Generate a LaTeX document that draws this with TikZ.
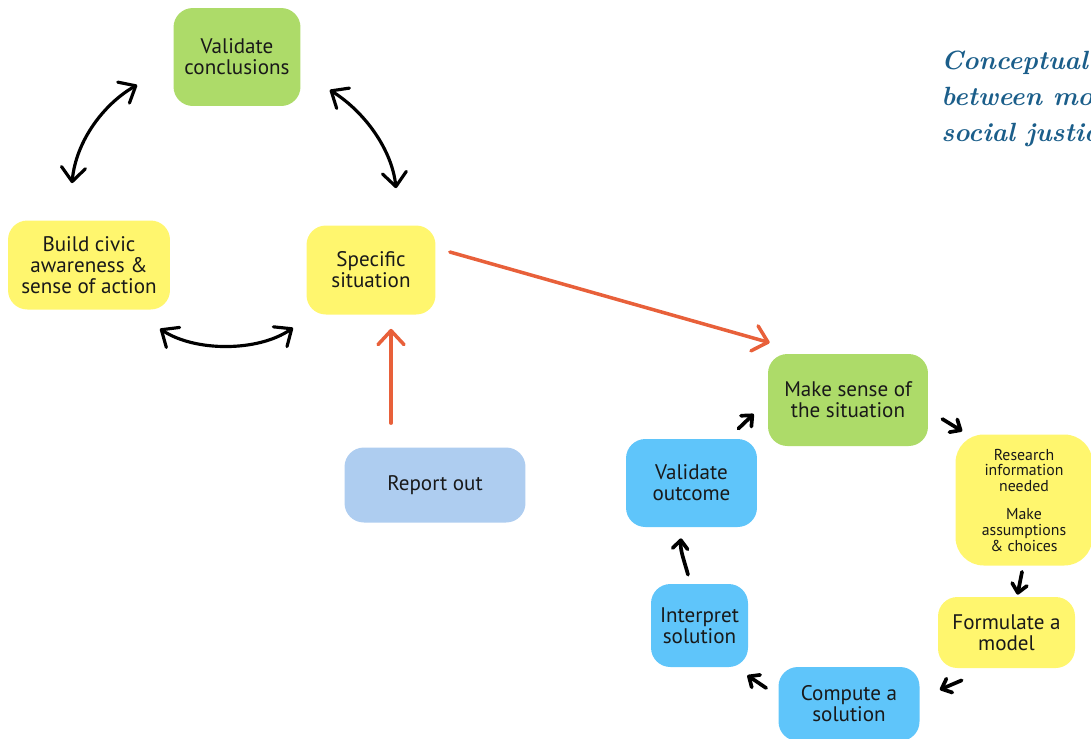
\documentclass[tikz,border=0pt]{standalone}
\usepackage{fontspec}
\newfontfamily\boxfont{PT Sans}
\usepackage{tikz}
\usetikzlibrary{arrows.meta,positioning,calc}
\definecolor{LeafGreen}{HTML}{ADDB69}
\definecolor{Lemon}{HTML}{FFF66E}
\definecolor{SkyBlue}{HTML}{5FC5FA}
\definecolor{PaleBlue}{HTML}{AECDF0}
\definecolor{Coral}{HTML}{E8603A}
\definecolor{InkBlue}{HTML}{1B5E8A}

\begin{document}
\begin{tikzpicture}[
  x=0.02cm, y=-0.02cm,
  every node/.style={font=\boxfont\fontsize{12}{12}\selectfont, text=black!90},
  stagebox/.style={rounded corners=11pt, align=center, inner sep=1pt},
  greenbox/.style={stagebox, fill=LeafGreen},
  yellowbox/.style={stagebox, fill=Lemon},
  bluebox/.style={stagebox, fill=SkyBlue},
  dblarr/.style={{Straight Barb[length=2.8mm,width=4.8mm,round]}-{Straight Barb[length=2.8mm,width=4.8mm,round]},
    line width=1.8pt, line cap=round},
  coralarr/.style={-{Straight Barb[length=2.8mm,width=5.2mm,round]}, line width=2pt, line cap=round, Coral},
  steparr/.style={-{Straight Barb[length=1.7mm,width=3mm,round]}, line width=2.1pt, line cap=round},
]
  \useasboundingbox (0,0) rectangle (1091,738);
  \clip (0,0) rectangle (1091,738);

  % Title
  \node[anchor=north west, inner sep=0, align=left, text=InkBlue,
        font=\rmfamily\bfseries\itshape\fontsize{15}{20.5}\selectfont]
    (title) at (941,51) {Conceptual\\between mo\\social justic};

  % Civic cycle
  \node[greenbox, minimum width=2.54cm, minimum height=1.96cm] (vconc) at (237,57) {Validate\\conclusions};
  \node[yellowbox, minimum width=3.24cm, minimum height=1.78cm] (civic) at (89,265) {Build civic\\awareness \&\\sense of action};
  \node[yellowbox, minimum width=2.58cm, minimum height=1.78cm] (spec) at (371,270) {Specific\\situation};
  \node[stagebox, fill=PaleBlue, minimum width=3.62cm, minimum height=1.5cm] (report) at (435,485) {Report out};

  \draw[dblarr] ([shift={(-17,-37)}]civic.north) .. controls (76,140) and (105,103) .. ([shift={(-36,28)}]vconc.west);
  \draw[dblarr] ([shift={(29,33)}]vconc.east) .. controls (365,112) and (392,150) .. ([shift={(25,-37)}]spec.north);
  \draw[dblarr] ([shift={(71,19)}]civic.south) .. controls (195,352) and (258,352) .. ([shift={(-78,13)}]spec.south);

  \draw[coralarr] ([shift={(-44,-24)}]report.north) -- ([shift={(20,14)}]spec.south);

  % Modeling cycle
  \node[greenbox, minimum width=3.2cm, minimum height=1.84cm] (sense) at (848,400) {Make sense of\\the situation};
  \node[yellowbox, rounded corners=16pt, minimum width=2.74cm, minimum height=2.62cm,
        font=\boxfont\fontsize{9}{9}\selectfont] (research) at (1024,500)
    {Research\\information\\needed\\[6.8pt]Make\\assumptions\\\& choices};
  \node[yellowbox, minimum width=2.74cm, minimum height=1.42cm] (formulate) at (1006.5,632.5) {Formulate a\\model};
  \node[bluebox, minimum width=2.82cm, minimum height=1.48cm] (compute) at (849,704) {Compute a\\solution};
  \node[bluebox, minimum width=1.94cm, minimum height=1.66cm] (interp) at (699.5,625.5) {Interpret\\solution};
  \node[bluebox, minimum width=2.62cm, minimum height=1.76cm] (vout) at (691.5,483) {Validate\\outcome};

  \draw[coralarr] ([shift={(14,-18)}]spec.east) -- ([shift={(2,-11)}]sense.north west);

  \draw[steparr] ([shift={(-19,-10)}]vout.north east) -- ([shift={(-14,14)}]sense.west);
  \draw[steparr] ([shift={(14,19)}]sense.east) -- ([shift={(7,-3)}]research.north west);
  \draw[steparr] ([shift={(-2,6)}]research.south) -- ([shift={(11,-2)}]formulate.north);
  \draw[steparr] ([shift={(24,12)}]formulate.south west) -- ([shift={(20,23)}]compute.north east);
  \draw[steparr] ([shift={(-12,-16)}]compute.west) -- ([shift={(-1,8)}]interp.south east);
  \draw[steparr] ([shift={(-11.5,-9)}]interp.north) .. controls (684,560) and (680,550) .. ([shift={(-10.5,11)}]vout.south);
\end{tikzpicture}
\end{document}
